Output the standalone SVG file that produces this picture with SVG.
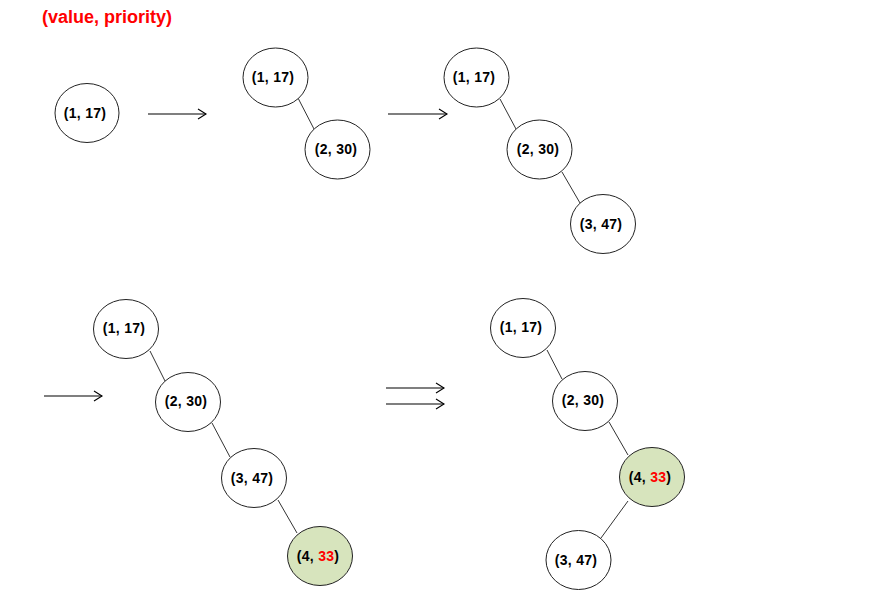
<svg xmlns="http://www.w3.org/2000/svg" width="894" height="616" viewBox="0 0 894 616">
<defs>
<marker id="arr" markerUnits="userSpaceOnUse" markerWidth="12" markerHeight="12" viewBox="0 0 12 12" refX="10" refY="6" orient="auto">
<path d="M2,1 L10,6 L2,11" fill="none" stroke="#000" stroke-width="1.1"/>
</marker>
</defs>
<style>
ellipse{fill:#fff;stroke:#222;stroke-width:1}
.hl ellipse{fill:#d7e4bd}
text{font-family:"Liberation Sans",Arial,sans-serif;font-weight:bold;font-size:14px;letter-spacing:0.3px;text-anchor:middle;fill:#000}
.red{fill:#ff0000}
.edges line{stroke:#333;stroke-width:1}
.arrows line{stroke:#000;stroke-width:1.1;marker-end:url(#arr)}
</style>
<rect width="894" height="616" fill="#fff"/>
<text x="107" y="23" style="font-size:18px;letter-spacing:0;fill:#ff0000">(value, priority)</text>
<g class="edges" id="connectors">
<line x1="298" y1="98" x2="314" y2="129"/>
<line x1="500" y1="99" x2="516" y2="129"/>
<line x1="562" y1="172" x2="580" y2="203"/>
<line x1="150" y1="351" x2="165" y2="381"/>
<line x1="212" y1="423" x2="230" y2="457"/>
<line x1="278" y1="500" x2="297" y2="533"/>
<line x1="547" y1="350" x2="562" y2="379"/>
<line x1="609" y1="422" x2="628" y2="455"/>
<line x1="628" y1="501" x2="601" y2="538"/>
</g>
<g class="arrows" id="arrows">
<line x1="148" y1="114" x2="206" y2="114"/>
<line x1="388" y1="114" x2="447" y2="114"/>
<line x1="44" y1="396" x2="102" y2="396"/>
<line x1="386" y1="388" x2="444" y2="388"/>
<line x1="386" y1="404" x2="444" y2="404"/>
</g>
<g id="s1-n1"><ellipse cx="87" cy="113" rx="32" ry="29.5"/><text x="85" y="118">(1, 17)</text></g>
<g id="s2-n1"><ellipse cx="275.5" cy="77.5" rx="32.5" ry="29.5"/><text x="273" y="82">(1, 17)</text></g>
<g id="s2-n2"><ellipse cx="337.5" cy="149.5" rx="32.5" ry="29.5"/><text x="336" y="154">(2, 30)</text></g>
<g id="s3-n1"><ellipse cx="476.5" cy="77.5" rx="32.5" ry="29.5"/><text x="474" y="82">(1, 17)</text></g>
<g id="s3-n2"><ellipse cx="539.5" cy="149.5" rx="32.5" ry="29.5"/><text x="538" y="154">(2, 30)</text></g>
<g id="s3-n3"><ellipse cx="603" cy="224" rx="32.5" ry="29.5"/><text x="601" y="229">(3, 47)</text></g>
<g id="s4-n1"><ellipse cx="126" cy="329" rx="32.5" ry="29.5"/><text x="124" y="333">(1, 17)</text></g>
<g id="s4-n2"><ellipse cx="188" cy="402" rx="32.5" ry="29.5"/><text x="186" y="406">(2, 30)</text></g>
<g id="s4-n3"><ellipse cx="254" cy="478" rx="32.5" ry="29.5"/><text x="252" y="483">(3, 47)</text></g>
<g id="s4-n4" class="hl"><ellipse cx="320" cy="556" rx="32.5" ry="29.5"/><text x="318" y="561">(4, <tspan class="red">33</tspan>)</text></g>
<g id="s5-n1"><ellipse cx="523" cy="328" rx="32.5" ry="29.5"/><text x="521" y="332">(1, 17)</text></g>
<g id="s5-n2"><ellipse cx="585" cy="401" rx="32.5" ry="29.5"/><text x="583" y="405">(2, 30)</text></g>
<g id="s5-n4" class="hl"><ellipse cx="652" cy="477" rx="32.5" ry="29.5"/><text x="650" y="482">(4, <tspan class="red">33</tspan>)</text></g>
<g id="s5-n3"><ellipse cx="578.5" cy="560" rx="32.5" ry="29.5"/><text x="576" y="565">(3, 47)</text></g>
</svg>
